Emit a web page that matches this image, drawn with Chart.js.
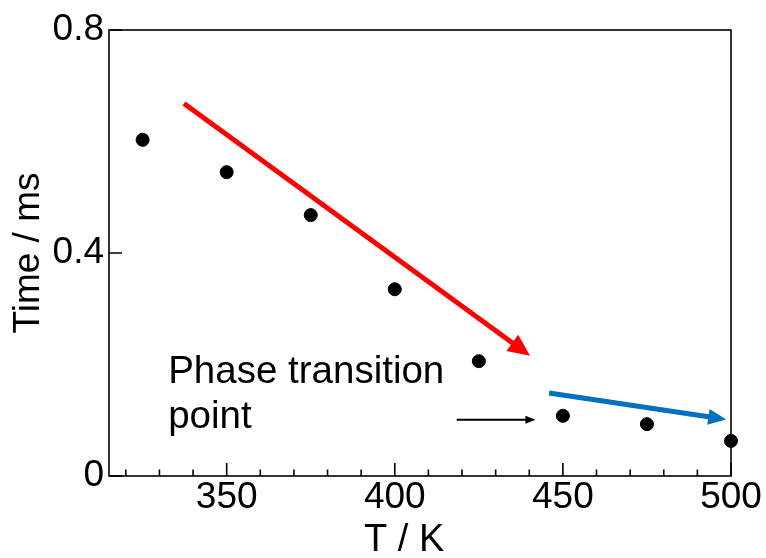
<!DOCTYPE html>
<html>
<head>
<meta charset="utf-8">
<script src="https://cdn.jsdelivr.net/npm/chart.js@4"></script>
<style>
  html, body { margin: 0; padding: 0; background: #fff; }
  #wrap { width: 766px; height: 558px; }
</style>
</head>
<body>
<div id="wrap"><canvas id="timechart"></canvas></div>
<script>
// measured points
const temps = [325, 350, 375, 400, 425, 450, 475, 500]
const times = [0.603, 0.545, 0.468, 0.335, 0.206, 0.108, 0.093, 0.063]

// trend arrows, start and end in data units
const redArrowX = [337.3, 438.8]
const redArrowY = [0.668, 0.222]
const blueArrowX = [445.9, 496.8]
const blueArrowY = [0.149, 0.103]
const markArrowX = [418.4, 441.1]
const markArrowY = [0.101, 0.101]

// annotation
const noteLines = ["Phase transition", "point"]
const noteX = 332.6
const noteY = [0.167, 0.086]

// axes
const xMajor = [350, 400, 450, 500]
const xMinor = [320, 330, 340, 360, 370, 380, 390, 410, 420, 430, 440, 460, 470, 480, 490]
const yMajor = [0, 0.4, 0.8]

const FONT = "'Liberation Sans', Arial, sans-serif"

const ctxEl = document.getElementById("timechart")

function pairs(xs, ys) {
    return xs.map((x, i) => ({x: x, y: ys[i]}))
}

// box around plot area plus inward tick marks
const framePlugin = {
    id: "frame",
    beforeDatasetsDraw(chart) {
        const {ctx, chartArea: a, scales} = chart
        ctx.save()
        ctx.strokeStyle = "#000"
        ctx.lineWidth = 1.6
        ctx.strokeRect(a.left, a.top, a.right - a.left, a.bottom - a.top)
        ctx.beginPath()
        xMajor.forEach(v => {
            const px = scales.x.getPixelForValue(v)
            ctx.moveTo(px, a.bottom)
            ctx.lineTo(px, a.bottom - 13)
        })
        xMinor.forEach(v => {
            const px = scales.x.getPixelForValue(v)
            ctx.moveTo(px, a.bottom)
            ctx.lineTo(px, a.bottom - 6.5)
        })
        yMajor.forEach(v => {
            const py = scales.y.getPixelForValue(v)
            ctx.moveTo(a.left, py)
            ctx.lineTo(a.left + 13, py)
        })
        ctx.stroke()
        ctx.restore()
    }
}

// heads on the arrow datasets + the text note
const arrowPlugin = {
    id: "arrows",
    afterDatasetsDraw(chart) {
        const {ctx, scales} = chart
        chart.data.datasets.forEach((ds, i) => {
            if (!ds.head) return
            const pts = chart.getDatasetMeta(i).data
            const p0 = pts[pts.length - 2], p1 = pts[pts.length - 1]
            const dx = p1.x - p0.x, dy = p1.y - p0.y
            const len = Math.hypot(dx, dy)
            const ux = dx / len, uy = dy / len
            const {L, W, ext} = ds.head
            const tx = p1.x + ux * ext, ty = p1.y + uy * ext
            const bx = tx - ux * L, by = ty - uy * L
            ctx.save()
            ctx.fillStyle = ds.borderColor
            ctx.beginPath()
            ctx.moveTo(tx, ty)
            ctx.lineTo(bx - uy * W / 2, by + ux * W / 2)
            ctx.lineTo(bx + uy * W / 2, by - ux * W / 2)
            ctx.closePath()
            ctx.fill()
            ctx.restore()
        })

        ctx.save()
        ctx.fillStyle = "#000"
        ctx.font = "38.5px " + FONT
        ctx.textAlign = "left"
        ctx.textBaseline = "alphabetic"
        noteLines.forEach((t, i) => {
            ctx.fillText(t, scales.x.getPixelForValue(noteX), scales.y.getPixelForValue(noteY[i]))
        })
        ctx.restore()
    }
}

new Chart(ctxEl, {
    type: "scatter",
    data: {
        datasets: [
            {
                data: pairs(temps, times),
                backgroundColor: "#000",
                borderColor: "#000",
                pointRadius: 6.5,
                pointHoverRadius: 6.5,
                showLine: false,
                clip: false
            },
            {
                data: pairs(redArrowX, redArrowY),
                borderColor: "#ff0000",
                borderWidth: 5,
                pointRadius: 0,
                showLine: true,
                clip: false,
                head: {L: 22, W: 20, ext: 6}
            },
            {
                data: pairs(blueArrowX, blueArrowY),
                borderColor: "#0070c0",
                borderWidth: 5,
                pointRadius: 0,
                showLine: true,
                clip: false,
                head: {L: 18, W: 16, ext: 6}
            },
            {
                data: pairs(markArrowX, markArrowY),
                borderColor: "#000",
                borderWidth: 2,
                pointRadius: 0,
                showLine: true,
                clip: false,
                head: {L: 10, W: 8, ext: 2.5}
            }
        ]
    },
    options: {
        responsive: true,
        maintainAspectRatio: false,
        animation: false,
        layout: {padding: {top: 30, right: 35, left: 0, bottom: 0}},
        scales: {
            x: {
                type: "linear",
                min: 315, max: 500,
                grid: {display: false, drawTicks: false},
                border: {display: false},
                afterBuildTicks: s => { s.ticks = xMajor.map(v => ({value: v})) },
                afterFit: s => { s.height = 82 },
                ticks: {
                    color: "#000",
                    padding: 0,
                    autoSkip: false,
                    maxRotation: 0,
                    font: {family: FONT, size: 37}
                },
                title: {
                    display: true,
                    text: "T / K\u00a0\u00a0\u00a0",
                    color: "#000",
                    font: {family: FONT, size: 38},
                    padding: {top: 0, bottom: -5}
                }
            },
            y: {
                min: 0, max: 0.8,
                grid: {display: false, drawTicks: false},
                border: {display: false},
                afterBuildTicks: s => { s.ticks = yMajor.map(v => ({value: v})) },
                afterFit: s => { s.width = 109 },
                ticks: {
                    color: "#000",
                    padding: 5,
                    font: {family: FONT, size: 37}
                },
                title: {
                    display: true,
                    text: "Time / ms",
                    color: "#000",
                    font: {family: FONT, size: 37},
                    padding: {top: 7, bottom: 0}
                }
            }
        },
        plugins: {
            legend: {display: false},
            tooltip: {enabled: false}
        }
    },
    plugins: [framePlugin, arrowPlugin]
})
</script>
</body>
</html>
